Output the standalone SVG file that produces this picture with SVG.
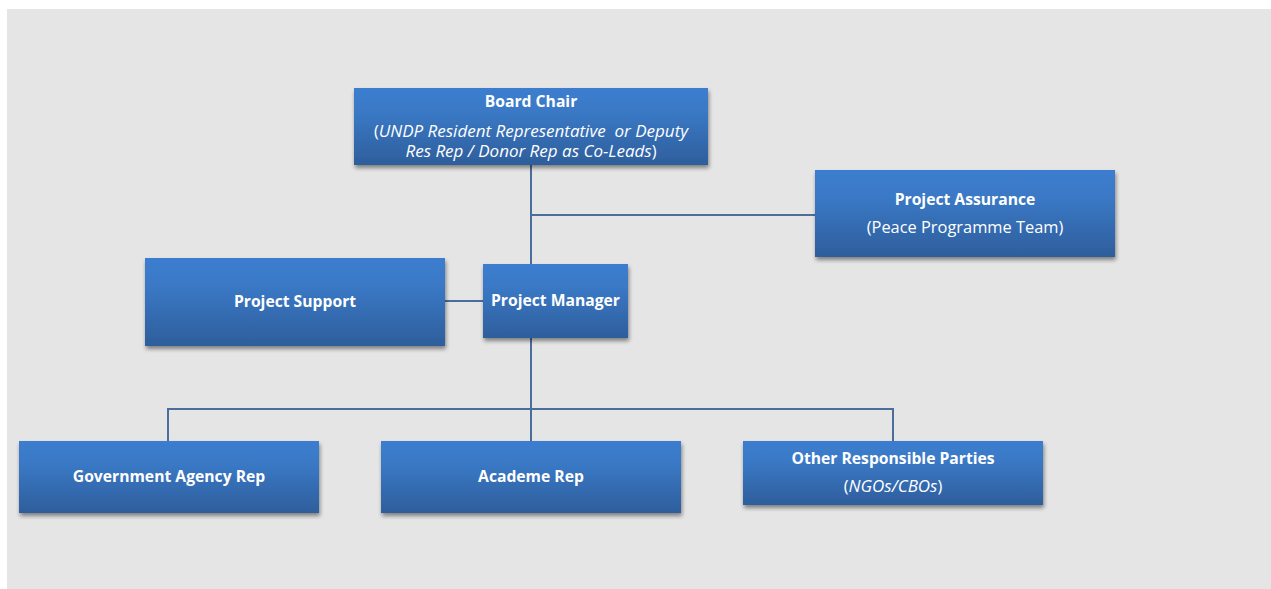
<svg xmlns="http://www.w3.org/2000/svg" width="1271" height="589" viewBox="0 0 1271 589">
<defs>
<linearGradient id="g" x1="0" y1="0" x2="0" y2="1">
<stop offset="0" stop-color="#3c7dcf"/>
<stop offset="0.3" stop-color="#3a79c6"/>
<stop offset="1" stop-color="#2e5e9c"/>
</linearGradient>
<filter id="sh" x="-10%" y="-10%" width="125%" height="140%">
<feGaussianBlur in="SourceAlpha" stdDeviation="2"/>
<feOffset dx="1" dy="3"/>
<feComponentTransfer><feFuncA type="linear" slope="0.45"/></feComponentTransfer>
<feMerge><feMergeNode/><feMergeNode in="SourceGraphic"/></feMerge>
</filter>
<style>
.box{fill:url(#g);filter:url(#sh)}
.t{font-family:"Open Sans","Liberation Sans",sans-serif;font-size:16.4px;fill:#ffffff;text-anchor:middle;white-space:pre}
.b{font-weight:bold;font-size:15.7px}
.i{font-style:italic;font-size:17px}
.c{stroke:#4a6d9c;stroke-width:2;fill:none}
</style>
</defs>
<rect x="7" y="9" width="1264" height="580" fill="#e5e5e5"/>
<g id="connectors">
<path class="c" d="M531 165V264M531 215H815M445 301H483M531 338V441M168 441V409H893V441"/>
</g>
<g id="board-chair">
<rect class="box" x="354" y="88" width="354" height="77"/>
<text class="t b" x="531" y="107">Board Chair</text>
<text class="t" x="531" y="137">(<tspan class="i">UNDP Resident Representative  or Deputy</tspan><tspan class="i" x="531" y="157">Res Rep / Donor Rep as Co-Leads</tspan>)</text>
</g>
<g id="project-assurance">
<rect class="box" x="815" y="170" width="300" height="87"/>
<text class="t b" x="965" y="205">Project Assurance</text>
<text class="t" x="965" y="233">(Peace Programme Team)</text>
</g>
<g id="project-support">
<rect class="box" x="145" y="258" width="300" height="88"/>
<text class="t b" x="295" y="307">Project Support</text>
</g>
<g id="project-manager">
<rect class="box" x="483" y="264" width="145" height="74"/>
<text class="t b" x="555.5" y="306">Project Manager</text>
</g>
<g id="government-agency-rep">
<rect class="box" x="19" y="441" width="300" height="72"/>
<text class="t b" x="169" y="482">Government Agency Rep</text>
</g>
<g id="academe-rep">
<rect class="box" x="381" y="441" width="300" height="72"/>
<text class="t b" x="531" y="482">Academe Rep</text>
</g>
<g id="other-responsible-parties">
<rect class="box" x="743" y="441" width="300" height="64"/>
<text class="t b" x="893" y="464">Other Responsible Parties</text>
<text class="t" x="893" y="492">(<tspan class="i">NGOs/CBOs</tspan>)</text>
</g>
</svg>
